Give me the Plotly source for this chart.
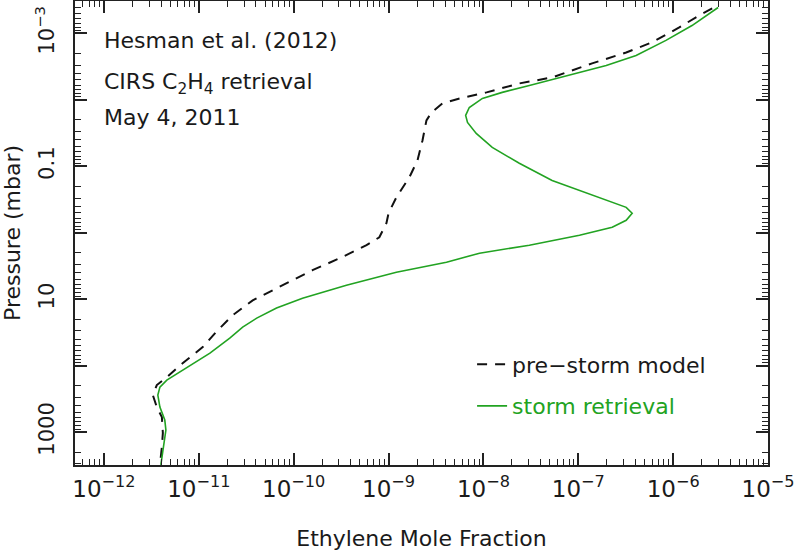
import plotly.graph_objects as go

# Pre-storm model (dashed black)
pre_x = [2.58e-6, 1.88e-6, 1.16e-6, 6.0e-7, 3.2e-7, 1.4e-7, 5.3e-8, 2.39e-8, 1.08e-8,
         5.6e-9, 3.7e-9, 2.84e-9, 2.51e-9, 2.28e-9, 2.02e-9, 1.66e-9, 1.21e-9, 1.0e-9,
         9.5e-10, 8.0e-10, 5.86e-10, 3.05e-10, 1.58e-10, 7.1e-11, 3.7e-11, 2.28e-11,
         1.55e-11, 1.1e-11, 6.8e-12, 4.6e-12, 3.61e-12, 3.28e-12, 3.61e-12, 4.08e-12,
         4.18e-12, 4.08e-12, 3.89e-12]
pre_p = [4.2e-4, 5.36e-4, 8.1e-4, 1.36e-3, 1.93e-3, 2.82e-3, 4.59e-3, 5.65e-3, 7.7e-3,
         9.5e-3, 1.13e-2, 1.54e-2, 2.03e-2, 4.07e-2, 8.1e-2, 0.146, 0.292, 0.509,
         0.72, 1.17, 1.54, 2.42, 3.66, 6.6, 10.4, 17.4,
         30.3, 52.7, 91.6, 149, 196, 278, 421, 594,
         1035, 1683, 3130]

# Storm retrieval (solid green)
storm_x = [2.98e-6, 1.58e-6, 8.4e-7, 4.07e-7, 1.97e-7, 8.0e-8, 3.05e-8, 1.58e-8, 9.76e-9,
           7.1e-9, 6.5e-9, 6.8e-9, 8.4e-9, 1.24e-8, 2.39e-8, 5.3e-8, 1.4e-7, 3.2e-7,
           3.7e-7, 3.2e-7, 2.28e-7, 1.03e-7, 3.05e-8, 9.1e-9, 4.08e-9, 1.21e-9, 3.6e-10,
           1.24e-10, 6.6e-11, 4.08e-11, 2.9e-11, 2.12e-11, 1.31e-11, 7.5e-12, 4.6e-12,
           3.89e-12, 3.7e-12, 3.89e-12, 4.38e-12, 4.5e-12, 4.28e-12, 4.08e-12, 3.98e-12]
storm_p = [4.06e-4, 7.6e-4, 1.27e-3, 2.14e-3, 3.03e-3, 4.28e-3, 6.05e-3, 7.7e-3, 9.5e-3,
           1.3e-2, 1.71e-2, 2.18e-2, 3.19e-2, 5.18e-2, 9.0e-2, 0.163, 0.273, 0.414,
           0.509, 0.649, 0.826, 1.09, 1.54, 2.03, 2.78, 3.93, 6.15,
           9.66, 13.6, 19.3, 26.4, 38.6, 64.9, 105, 165,
           211, 278, 421, 660, 933, 1462, 2377, 3130]

x_tick_vals = [1e-12, 1e-11, 1e-10, 1e-9, 1e-8, 1e-7, 1e-6, 1e-5]
x_tick_text = ["10<sup>\u221212</sup>", "10<sup>\u221211</sup>", "10<sup>\u221210</sup>",
               "10<sup>\u22129</sup>", "10<sup>\u22128</sup>", "10<sup>\u22127</sup>",
               "10<sup>\u22126</sup>", "10<sup>\u22125</sup>"]
y_tick_vals = [1e-3, 1e-2, 1e-1, 1, 10, 100, 1000]
y_tick_text = ["10<sup>\u22123</sup>", "", "0.1", "", "10", "", "1000"]

GREEN = "#22a322"
FONT = "DejaVu Sans"
TXT = "#1a1a1a"

fig = go.Figure()
fig.add_trace(go.Scatter(
    x=pre_x, y=pre_p, mode="lines", name="pre\u2212storm model",
    legendgroup="a",
    line=dict(color="#111111", width=2, dash="10px,8px"),
))
fig.add_trace(go.Scatter(
    x=storm_x, y=storm_p, mode="lines",
    name="<span style='color:%s'>storm retrieval</span>" % GREEN,
    legendgroup="b",
    line=dict(color=GREEN, width=1.6),
))

axis_common = dict(
    showline=True, linewidth=2, linecolor="#222222", mirror="ticks",
    ticks="inside", ticklen=12, tickwidth=1.5, tickcolor="#222222",
    showgrid=False, zeroline=False, automargin=False,
    minor=dict(ticks="inside", ticklen=6, tickwidth=1.2, tickcolor="#222222",
               showgrid=False, dtick="D1"),
)

fig.update_xaxes(
    type="log", range=[-12.305, -5],
    tickvals=x_tick_vals, ticktext=x_tick_text,
    tickfont=dict(family=FONT, size=23, color=TXT),
    ticklabelstandoff=2,
    title=dict(text="Ethylene Mole Fraction", font=dict(family=FONT, size=22, color=TXT),
               standoff=30),
    **axis_common,
)
fig.update_yaxes(
    type="log", range=[3.496, -3.489],
    tickvals=y_tick_vals, ticktext=y_tick_text, tickangle=-90,
    tickfont=dict(family=FONT, size=21, color=TXT),
    ticklabelstandoff=11,
    title=dict(text="Pressure (mbar)", font=dict(family=FONT, size=22, color=TXT),
               standoff=8),
    **axis_common,
)

ann_font = dict(family=FONT, size=22, color=TXT)
for txt, yy in [("Hesman et al. (2012)", 0.914),
                ("CIRS C<sub>2</sub>H<sub>4</sub> retrieval", 0.822),
                ("May 4, 2011", 0.748)]:
    fig.add_annotation(text=txt, xref="paper", yref="paper", x=0.039, y=yy,
                       xanchor="left", yanchor="middle", showarrow=False, font=ann_font)

fig.update_layout(
    width=800, height=551,
    margin=dict(l=75, r=32, t=1, b=86),
    paper_bgcolor="white", plot_bgcolor="white",
    font=dict(family=FONT, color=TXT),
    showlegend=True,
    legend=dict(x=0.573, y=0.262, xanchor="left", yanchor="top",
                bgcolor="rgba(0,0,0,0)", font=dict(family=FONT, size=22, color=TXT),
                tracegroupgap=10),
)

fig.write_html("out.html", config={"displayModeBar": False},
               post_script="document.body.style.margin='0px';")
